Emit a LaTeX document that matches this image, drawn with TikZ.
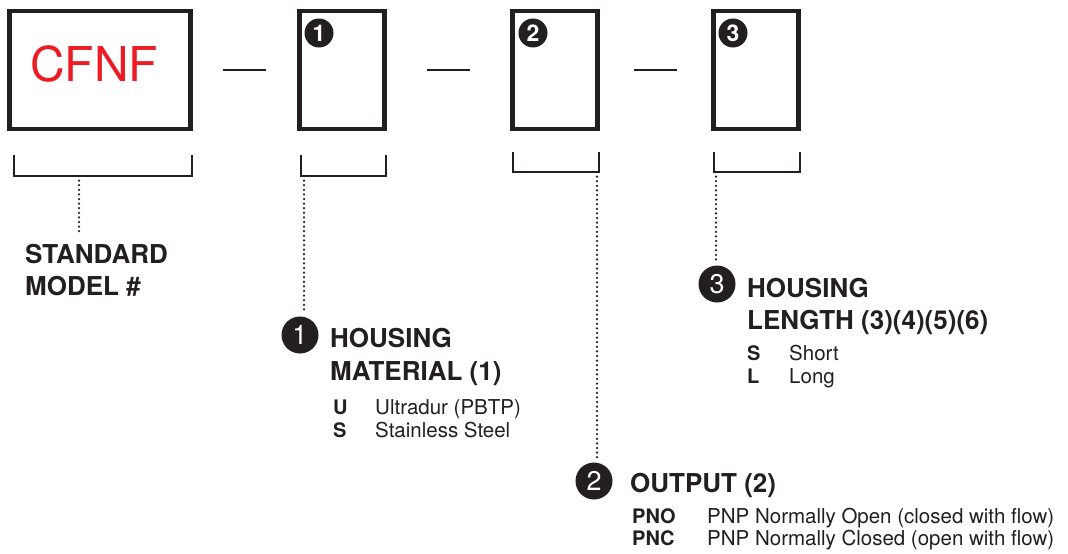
\documentclass[tikz,border=0pt]{standalone}
\usepackage{fontspec}
\setmainfont{TeX Gyre Heros}
\usepackage{xcolor}
\usetikzlibrary{calc}
\definecolor{ink}{HTML}{231F20}
\definecolor{brand}{HTML}{ED1C24}
\tikzset{
  box/.style={draw=ink, line width=4.6pt, minimum width=85.5pt, minimum height=118pt, inner sep=0pt},
  brk/.style={draw=ink, line width=2pt},
  sep/.style={draw=ink, line width=2.6pt},
  leader/.style={draw=ink, line width=2.5pt, line cap=round, dash pattern=on 0pt off 4.6pt},
  tag/.style={circle, fill=ink, text=white, inner sep=0pt, minimum size=29pt, font=\bfseries\fontsize{23}{23}\selectfont},
  bigtag/.style={circle, fill=ink, text=white, inner sep=0pt, minimum size=37pt, font=\fontsize{27}{27}\selectfont},
  head/.style={anchor=base west, inner sep=0pt, text=ink, font=\bfseries\fontsize{26}{26}\selectfont},
  code/.style={anchor=base west, inner sep=0pt, text=ink, font=\bfseries\fontsize{20}{20}\selectfont},
  item/.style={anchor=base west, inner sep=0pt, text=ink, font=\fontsize{20.5}{20.5}\selectfont}
}

\begin{document}
\begin{tikzpicture}[x=1pt, y=-1pt]
  \useasboundingbox[fill=white] (0,0) rectangle (1068,554);

  % model number boxes
  \node[box, minimum width=181pt] (model) at (100,70) {};
  \node[text=brand, inner sep=0pt, font=\fontsize{48}{48}\selectfont] (cfnf) at (94,64) {CFNF};
  \node[box] (bx1) at (342,70) {};
  \node[box] (bx2) at (555,70) {};
  \node[box] (bx3) at (756,70) {};

  \node[tag] (t1) at (319,33) {1};
  \node[tag] (t2) at (533,33) {2};
  \node[tag] (t3) at (733,33) {3};

  \draw[sep] ($(model.east)!0.5!(bx1.west)+(-21.5,0)$) -- ++(43,0);
  \draw[sep] ($(bx1.east)!0.5!(bx2.west)+(-21.5,0)$) -- ++(43,0);
  \draw[sep] ($(bx2.east)!0.5!(bx3.west)+(-21.5,0)$) -- ++(43,0);

  % brackets
  \draw[brk] (14,155) -- (14,176) -- (192,176) -- (192,155);
  \draw[brk] (301,155) -- (301,176) -- (386,176) -- (386,155);
  \draw[brk] (513,152) -- (513,172) -- (599,172) -- (599,152);
  \draw[brk] (714,152) -- (714,172) -- (800,172) -- (800,152);
  \coordinate (l0) at (79,176);
  \coordinate (l1) at (304,176);
  \coordinate (l2) at (597,172);
  \coordinate (l3) at (716,172);

  % standard model
  \node[head] (std1) at (25,263) {STANDARD};
  \node[head] (std2) at (25,295) {MODEL \#};

  % housing material
  \node[bigtag] (b1) at (300,335) {1};
  \node[head] (mat1) at (330,347) {HOUSING};
  \node[head] (mat2) at (330,380) {MATERIAL (1)};
  \node[code] (mu) at (333,414) {U};
  \node[item] (mut) at (375,414) {Ultradur (PBTP)};
  \node[code] (ms) at (333,437) {S};
  \node[item] (mst) at (375,437) {Stainless Steel};

  % housing length
  \node[bigtag] (b3) at (717,284) {3};
  \node[head] (len1) at (747,297) {HOUSING};
  \node[head] (len2) at (747,329) {LENGTH (3)(4)(5)(6)};
  \node[code] (ls) at (747,360) {S};
  \node[item] (lst) at (789,360) {Short};
  \node[code] (ll) at (747,383) {L};
  \node[item] (llt) at (789,383) {Long};

  % output
  \node[bigtag] (b2) at (594,481) {2};
  \node[head] (out1) at (630,492) {OUTPUT (2)};
  \node[code] (pno) at (632,523) {PNO};
  \node[item] (pnot) at (707,523) {PNP Normally Open (closed with flow)};
  \node[code] (pnc) at (632,545) {PNC};
  \node[item] (pnct) at (707,545) {PNP Normally Closed (open with flow)};

  % leaders
  \draw[leader] (l0) -- ([yshift=9pt]l0 |- std1.north);
  \draw[leader] (l1) -- ([yshift=3pt]l1 |- b1.north);
  \draw[leader] (l2) -- ([yshift=3pt]l2 |- b2.north);
  \draw[leader] (l3) -- ([yshift=3pt]l3 |- b3.north);
\end{tikzpicture}
\end{document}
